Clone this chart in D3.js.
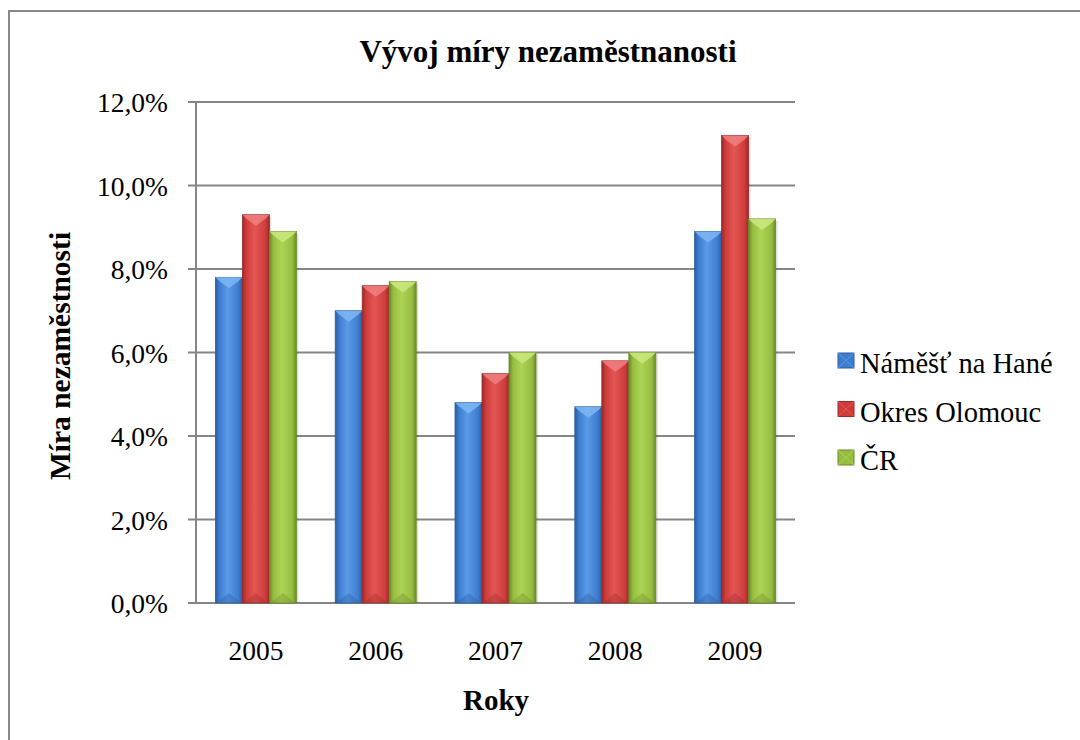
<!DOCTYPE html>
<html>
<head>
<meta charset="utf-8">
<script src="https://cdn.jsdelivr.net/npm/d3@7"></script>
<style>
body { margin:0; background:#fff; overflow:hidden; }
</style>
</head>
<body>
<svg id="graph" width="1080" height="740"></svg>
<script>
var years = ["2005", "2006", "2007", "2008", "2009"]
var seriesNames = ["Náměšť na Hané", "Okres Olomouc", "ČR"]
var namest = [7.8, 7.0, 4.8, 4.7, 8.9]
var olomouc = [9.3, 7.6, 5.5, 5.8, 11.2]
var cr = [8.9, 7.7, 6.0, 6.0, 9.2]
var yTicks = [0, 2, 4, 6, 8, 10, 12]

var serif = "'Liberation Serif', 'Times New Roman', Times, serif"

var colors = [
    {dark:"#2c5d9e", mid:"#3d7dd0", light:"#5b9ae6", top:"#7fb6f5"},
    {dark:"#9a2a28", mid:"#cf3d3b", light:"#e35654", top:"#f08080"},
    {dark:"#6b8a2a", mid:"#95bd3f", light:"#aed455", top:"#cbe880"}
]

var svg = d3.select("#graph")
var allSeries = [namest, olomouc, cr]

var margin = {left:196, right:795, top:102, bottom:603}

var xScale = d3.scaleBand()
    .domain(years)
    .range([margin.left, margin.right])
    .paddingInner(0.324)
    .paddingOuter(0.162)

var xInner = d3.scaleBand()
    .domain([0, 1, 2])
    .range([0, xScale.bandwidth()])

var yScale = d3.scaleLinear()
    .domain([0, 12])
    .range([margin.bottom, margin.top])

// gradients for bars
var defs = svg.append("defs")
colors.forEach(function(c, i)
{
    var g = defs.append("linearGradient")
        .attr("id", "grad" + i)
        .attr("x1", "0%").attr("x2", "100%")
        .attr("y1", "0%").attr("y2", "0%")
    g.append("stop").attr("offset", "0%").attr("stop-color", c.dark)
    g.append("stop").attr("offset", "15%").attr("stop-color", c.mid)
    g.append("stop").attr("offset", "45%").attr("stop-color", c.light)
    g.append("stop").attr("offset", "85%").attr("stop-color", c.mid)
    g.append("stop").attr("offset", "100%").attr("stop-color", c.dark)
})

// outer border
svg.append("rect")
    .attr("x", 9).attr("y", 11)
    .attr("width", 1100).attr("height", 800)
    .attr("fill", "none")
    .attr("stroke", "#888")
    .attr("stroke-width", 2)

// gridlines + ticks
svg.append("g")
    .selectAll("line")
    .data(yTicks)
    .enter()
    .append("line")
    .attr("x1", margin.left - 8)
    .attr("x2", margin.right)
    .attr("y1", function(d) { return yScale(d) })
    .attr("y2", function(d) { return yScale(d) })
    .attr("stroke", "#868686")
    .attr("stroke-width", 2)

// y axis line
svg.append("line")
    .attr("x1", margin.left).attr("x2", margin.left)
    .attr("y1", margin.top).attr("y2", margin.bottom)
    .attr("stroke", "#868686")
    .attr("stroke-width", 2)

// y tick labels
svg.append("g")
    .selectAll("text")
    .data(yTicks)
    .enter()
    .append("text")
    .attr("x", 168)
    .attr("y", function(d) { return yScale(d) + 10 })
    .attr("text-anchor", "end")
    .attr("font-family", serif)
    .attr("font-size", 27.5)
    .text(function(d) { return d3.format(".1f")(d).replace(".", ",") + "%" })

// x labels
svg.append("g")
    .selectAll("text")
    .data(years)
    .enter()
    .append("text")
    .attr("x", function(d) { return xScale(d) + xScale.bandwidth() / 2 })
    .attr("y", 660)
    .attr("text-anchor", "middle")
    .attr("font-family", serif)
    .attr("font-size", 27.5)
    .text(function(d) { return d })

// bars
allSeries.forEach(function(values, s)
{
    var c = colors[s]
    var g = svg.append("g")
    var w = xInner.bandwidth()
    var bars = g.selectAll("g")
        .data(values)
        .enter()
        .append("g")
        .attr("transform", function(d, i)
        {
            return "translate(" + (xScale(years[i]) + xInner(s)) + ",0)"
        })
    bars.append("rect")
        .attr("x", 2).attr("width", w)
        .attr("y", function(d) { return yScale(d) + 2 })
        .attr("height", function(d) { return yScale(0) - yScale(d) - 2 })
        .attr("fill", "#000")
        .attr("opacity", 0.12)
    bars.append("rect")
        .attr("x", 0).attr("width", w)
        .attr("y", function(d) { return yScale(d) })
        .attr("height", function(d) { return yScale(0) - yScale(d) })
        .attr("fill", "url(#grad" + s + ")")
        .attr("stroke", c.dark)
        .attr("stroke-width", 0.8)
    bars.append("path")
        .attr("d", function(d)
        {
            var y = yScale(d)
            return "M0," + y + "L" + w + "," + y + "L" + (w - 4) + "," + (y + 4) +
                   "L" + (w / 2) + "," + (y + 11) + "L4," + (y + 4) + "Z"
        })
        .attr("fill", c.top)
        .attr("opacity", 0.85)
    bars.append("path")
        .attr("d", function(d)
        {
            var y = yScale(0)
            return "M1," + y + "L" + (w - 1) + "," + y + "L" + (w / 2) + "," + (y - 10) + "Z"
        })
        .attr("fill", c.dark)
        .attr("opacity", 0.35)
})

// title
svg.append("text")
    .attr("x", 548).attr("y", 62)
    .attr("text-anchor", "middle")
    .attr("font-family", serif)
    .attr("font-size", 31)
    .attr("font-weight", "bold")
    .text("Vývoj míry nezaměstnanosti")

// axis titles
svg.append("text")
    .attr("x", 496).attr("y", 710)
    .attr("text-anchor", "middle")
    .attr("font-family", serif)
    .attr("font-size", 29)
    .attr("font-weight", "bold")
    .text("Roky")

svg.append("text")
    .attr("transform", "translate(70,356) rotate(-90)")
    .attr("text-anchor", "middle")
    .attr("font-family", serif)
    .attr("font-size", 29.5)
    .attr("font-weight", "bold")
    .text("Míra nezaměstnosti")

// legend
var legend = svg.append("g")
    .selectAll("g")
    .data(seriesNames)
    .enter()
    .append("g")
    .attr("transform", function(d, i) { return "translate(838," + (353 + i * 48.5) + ")" })
legend.append("rect")
    .attr("width", 16).attr("height", 15)
    .attr("fill", function(d, i) { return colors[i].mid })
    .attr("stroke", function(d, i) { return colors[i].dark })
legend.append("path")
    .attr("d", "M0,0L16,15M16,0L0,15")
    .attr("stroke", function(d, i) { return colors[i].light })
    .attr("stroke-width", 1)
legend.append("text")
    .attr("x", 22).attr("y", 20)
    .attr("font-family", serif)
    .attr("font-size", 28.5)
    .text(function(d) { return d })
</script>
</body>
</html>
